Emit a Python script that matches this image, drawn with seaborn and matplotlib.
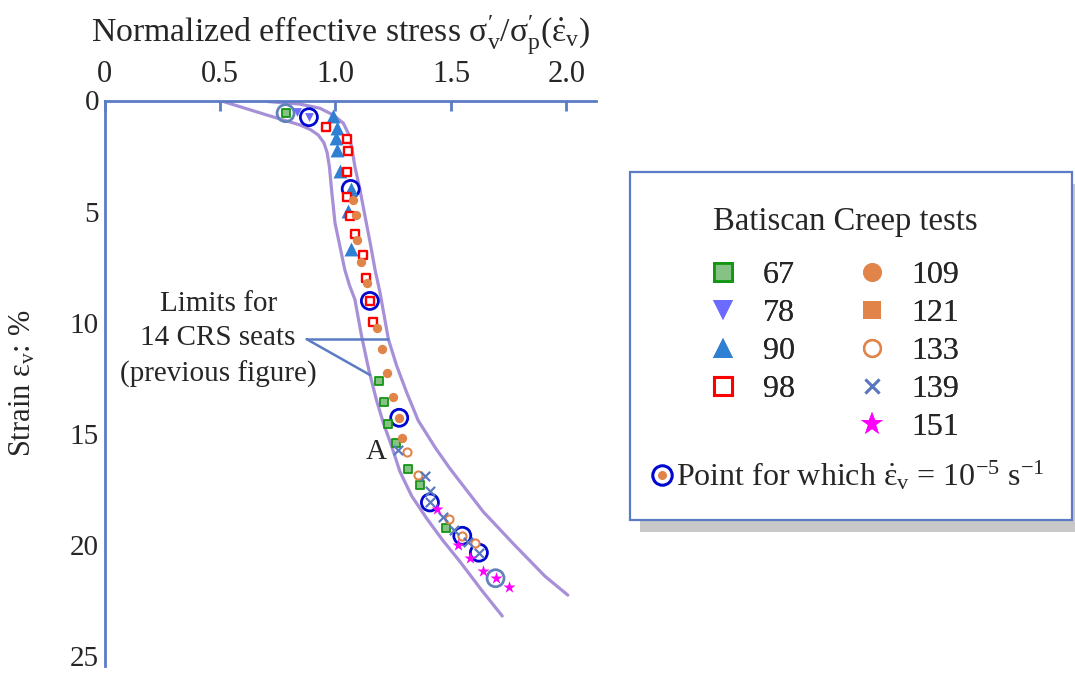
import matplotlib
matplotlib.use("Agg")
import matplotlib.pyplot as plt
from matplotlib.lines import Line2D
from matplotlib.patches import Rectangle
from matplotlib.legend_handler import HandlerTuple
import pandas as pd
import seaborn as sns

sns.set_style("white")
plt.rcParams["font.family"] = ["Liberation Serif", "DejaVu Serif"]
plt.rcParams["mathtext.fontset"] = "custom"
plt.rcParams["mathtext.rm"] = "Liberation Serif"
plt.rcParams["mathtext.it"] = "Liberation Serif:italic"
plt.rcParams["mathtext.bf"] = "Liberation Serif:bold"

# ---- envelope of the 14 CRS tests -------------------------------------
low_x = [0.50, 0.702, 0.846, 0.890, 0.925, 0.950, 0.964, 0.974, 0.983, 0.998,
         1.022, 1.040, 1.060, 1.084, 1.113, 1.145, 1.178, 1.207, 1.243, 1.279,
         1.330, 1.395, 1.465, 1.539, 1.630, 1.722]
low_y = [0.0, 0.65, 1.10, 1.30, 1.55, 1.90, 2.35, 3.00, 4.01, 5.51,
         6.70, 7.60, 8.30, 8.95, 10.60, 12.15, 13.50, 14.50, 15.55, 16.70,
         17.80, 18.81, 19.80, 20.75, 22.00, 23.20]
up_x = [0.709, 0.846, 0.933, 0.990, 1.034, 1.055, 1.070, 1.084, 1.106, 1.128,
        1.152, 1.171, 1.193, 1.229, 1.265, 1.308, 1.358, 1.435, 1.496, 1.640,
        1.773, 1.907, 2.006]
up_y = [0.05, 0.16, 0.35, 0.65, 1.02, 1.47, 2.07, 2.97, 4.01, 5.21,
        6.50, 7.60, 8.65, 10.74, 11.94, 13.13, 14.40, 15.67, 16.57, 18.51,
        19.98, 21.41, 22.26]

# ---- Batiscan creep tests: normalized stress / strain (%) -------------
t67_x = [0.784, 1.190, 1.210, 1.229, 1.262, 1.315, 1.366, 1.478]
t67_y = [0.57, 12.61, 13.58, 14.55, 15.40, 16.60, 17.32, 19.26]
t78_x = [0.835, 0.885]
t78_y = [0.50, 0.75]
t90_x = [0.988, 1.005, 1.002, 1.005, 1.019, 1.066, 1.053, 1.066]
t90_y = [0.70, 1.22, 1.67, 2.25, 3.19, 3.98, 4.99, 6.67]
t98_x = [0.959, 1.048, 1.053, 1.048, 1.048, 1.064, 1.084, 1.120, 1.132, 1.149, 1.164]
t98_y = [1.20, 1.74, 2.26, 3.22, 4.36, 5.22, 5.99, 6.96, 7.97, 9.02, 9.96]
t109_x = [1.076, 1.087, 1.094, 1.110, 1.138, 1.181, 1.200, 1.222, 1.248, 1.276, 1.289]
t109_y = [4.48, 5.17, 6.26, 7.26, 8.20, 10.22, 11.19, 12.26, 13.35, 14.28, 15.19]
t121_x = []
t121_y = []
t133_x = [1.311, 1.359, 1.491, 1.549, 1.605]
t133_y = [15.82, 16.84, 18.84, 19.59, 19.92]
t139_x = [1.272, 1.387, 1.409, 1.409, 1.467, 1.513, 1.575, 1.621]
t139_y = [15.75, 16.91, 17.59, 18.09, 18.75, 19.34, 19.86, 20.35]
t151_x = [1.441, 1.529, 1.582, 1.637, 1.693, 1.752]
t151_y = [18.39, 20.01, 20.57, 21.16, 21.50, 21.88]

# points where the strain rate equals 1e-5 s^-1 (test, index in series)
rate_test = ["67", "78", "90", "98", "109", "139", "133", "139", "151"]
rate_index = [0, 1, 5, 9, 9, 3, 3, 7, 4]
rate_ring = ["grey", "blue", "blue", "blue", "blue", "blue", "blue", "blue", "grey"]

x_ticks = [0, 0.5, 1.0, 1.5, 2.0]
x_tick_labels = ["0", "0.5", "1.0", "1.5", "2.0"]
y_ticks = [0, 5, 10, 15, 20, 25]
y_tick_labels = ["0", "5", "10", "15", "20", "25"]

AXIS = "#5b7bc4"
LIMIT = "#a890d8"
GREEN_E, GREEN_F = "#129612", "#86c286"
VIOLET = "#6b6bff"
TRI = "#2f7fd2"
RED = "#ff0000"
ORANGE = "#e0844a"
CROSS = "#5a78bf"
MAGENTA = "#ff00ff"
RING = {"blue": "#0008d0", "grey": "#6282ba"}

series = {
    "67": (t67_x, t67_y, dict(marker="s", s=30, color=GREEN_F, edgecolor=GREEN_E, linewidth=1.3)),
    "78": (t78_x, t78_y, dict(marker="v", s=40, color=VIOLET, edgecolor=VIOLET, linewidth=0)),
    "90": (t90_x, t90_y, dict(marker="^", s=100, color=TRI, edgecolor=TRI, linewidth=0)),
    "98": (t98_x, t98_y, dict(marker="s", s=28, color="white", edgecolor=RED, linewidth=1.7)),
    "109": (t109_x, t109_y, dict(marker="o", s=45, color=ORANGE, edgecolor=ORANGE, linewidth=0)),
    "121": (t121_x, t121_y, dict(marker="s", s=45, color=ORANGE, edgecolor=ORANGE, linewidth=0)),
    "133": (t133_x, t133_y, dict(marker="o", s=34, color="white", edgecolor=ORANGE, linewidth=1.5)),
    "139": (t139_x, t139_y, dict(marker="x", s=45, color=CROSS, linewidth=1.6)),
    "151": (t151_x, t151_y, dict(marker="*", s=85, color=MAGENTA, edgecolor=MAGENTA, linewidth=0)),
}

fig = plt.figure(figsize=(10.75, 6.73), dpi=100)
ax = fig.add_axes([104.5 / 1075, 1 - 666 / 673, 491.5 / 1075, 565.5 / 673])

# envelope curves
env = pd.concat([
    pd.DataFrame({"x": low_x, "y": low_y, "side": "low"}),
    pd.DataFrame({"x": up_x, "y": up_y, "side": "up"}),
])
sns.lineplot(data=env, x="x", y="y", units="side", estimator=None, sort=False,
             color=LIMIT, linewidth=2.3, ax=ax, legend=False)

# rings around the 1e-5 s^-1 points (drawn below the test markers)
ring_df = pd.DataFrame({
    "x": [series[t][0][i] for t, i in zip(rate_test, rate_index)],
    "y": [series[t][1][i] for t, i in zip(rate_test, rate_index)],
    "ring": rate_ring,
})
for kind, grp in ring_df.groupby("ring"):
    sns.scatterplot(data=grp, x="x", y="y", marker="o", s=150, facecolor="none",
                    edgecolor=RING[kind], linewidth=2.0, ax=ax, legend=False, zorder=3)

for name, (xs, ys, style) in series.items():
    if xs:
        sns.scatterplot(x=xs, y=ys, ax=ax, legend=False, zorder=4, **style)

# axes styling: stress axis on top, strain increasing downwards
ax.set_xlim(0, 2.128)
ax.set_ylim(25.45, 0)
ax.xaxis.tick_top()
ax.xaxis.set_label_position("top")
ax.set_xticks(x_ticks, x_tick_labels)
ax.set_yticks(y_ticks, y_tick_labels)
for side in ["bottom", "right"]:
    ax.spines[side].set_visible(False)
for side in ["top", "left"]:
    ax.spines[side].set_color(AXIS)
    ax.spines[side].set_linewidth(2.0)
ax.tick_params(axis="x", direction="in", length=7.5, width=2.0, color=AXIS,
               labelsize=22, pad=8)
ax.tick_params(axis="y", direction="in", length=8, width=2.0, color=AXIS,
               labelsize=21, pad=4)
ax.grid(False)

ax.set_xlabel(r"Normalized effective stress $\mathrm{σ}^{\prime}_{\mathrm{v}}$/"
              r"$\mathrm{σ}^{\prime}_{\mathrm{p}}$($\dot{\mathrm{ε}}_{\mathrm{v}}$)",
              fontsize=24.3)
ax.xaxis.set_label_coords(0.481, 1.103)
ax.set_ylabel(r"Strain $\mathrm{ε}_{\mathrm{v}}$: %", fontsize=22)
ax.yaxis.set_label_coords(-0.137, 0.5)

# envelope annotation
ax.text(0.492, 10.74, "Limits for\n14 CRS seats\n(previous figure)", fontsize=21,
        ha="center", va="center", linespacing=1.43)
ax.plot([0.875, 1.229], [10.74, 10.74], color=AXIS, lw=1.8)
ax.plot([0.875, 1.149], [10.74, 12.35], color=AXIS, lw=1.8)
ax.text(1.175, 15.8, "A", fontsize=21, ha="center", va="center")

# legend box with drop shadow
fig.patches.append(Rectangle((640 / 1075, 1 - 532 / 673), 442 / 1075, 348 / 673,
                             transform=fig.transFigure, facecolor="#c8c8c8",
                             edgecolor="none", zorder=0))
fig.patches.append(Rectangle((630 / 1075, 1 - 520 / 673), 442 / 1075, 348 / 673,
                             transform=fig.transFigure, facecolor="white",
                             edgecolor=AXIS, linewidth=1.6, zorder=1))
fig.text(845 / 1075, 1 - 222 / 673, "Batiscan Creep tests", fontsize=23.5,
         ha="center", va="center")


def handle(**kw):
    return Line2D([], [], linestyle="none", **kw)


legend_handles = [
    handle(marker="s", ms=13, mfc=GREEN_F, mec=GREEN_E, mew=2),
    handle(marker="v", ms=14, mfc=VIOLET, mec=VIOLET, mew=0),
    handle(marker="^", ms=14, mfc=TRI, mec=TRI, mew=0),
    handle(marker="s", ms=13, mfc="white", mec=RED, mew=2.2),
    handle(marker=None),
    handle(marker="o", ms=13.5, mfc=ORANGE, mec=ORANGE, mew=0),
    handle(marker="s", ms=13.5, mfc=ORANGE, mec=ORANGE, mew=0),
    handle(marker="o", ms=12, mfc="white", mec=ORANGE, mew=1.8),
    handle(marker="x", ms=9.5, color=CROSS, mew=2),
    handle(marker="*", ms=17, mfc=MAGENTA, mec=MAGENTA, mew=0),
]
legend_labels = ["67", "78", "90", "98", "", "109", "121", "133", "139", "151"]
leg = fig.legend(legend_handles, legend_labels, ncol=2, frameon=False, fontsize=23,
                 loc="upper left", bbox_to_anchor=(707 / 1075, 1 - 260.6 / 673),
                 handlelength=1.0, handletextpad=0.75, columnspacing=1.9,
                 labelspacing=0.27, borderpad=0, borderaxespad=0)

# ring with a dot inside, overlaid in a single legend slot
rate_handle = (handle(marker="o", ms=14, mfc="white", mec=RING["blue"], mew=2.2),
               handle(marker="o", ms=6.5, mfc=ORANGE, mec=ORANGE, mew=0))
leg2 = fig.legend([rate_handle],
                  [r"Point for which $\dot{\mathrm{ε}}_{\mathrm{v}}$ = 10$^{-5}$ s$^{-1}$"],
                  handler_map={tuple: HandlerTuple(ndivide=1, pad=0)},
                  frameon=False, fontsize=23, loc="center left",
                  bbox_to_anchor=(649 / 1075, 1 - 476 / 673),
                  handlelength=0.8, handletextpad=0.06, borderpad=0, borderaxespad=0)
fig.add_artist(leg)

fig.savefig("out.png", dpi=100)
